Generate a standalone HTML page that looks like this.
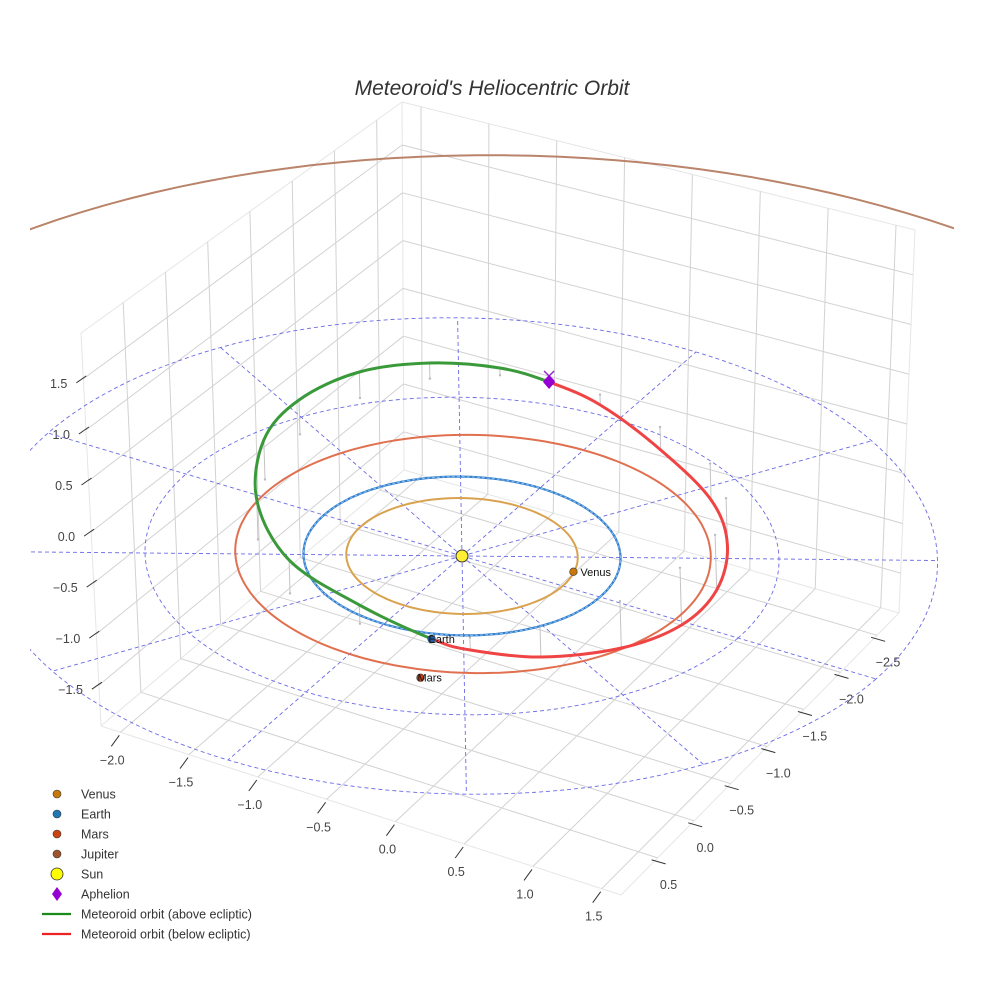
<!DOCTYPE html>
<html><head><meta charset="utf-8"><style>
body{margin:0;background:#fff}
svg{display:block;font-family:"Liberation Sans",sans-serif}
</style></head><body>
<svg id="chart" width="984" height="984" viewBox="0 0 984 984" xmlns="http://www.w3.org/2000/svg">
<defs><clipPath id="plotclip"><rect x="30" y="0" width="924" height="984"/></clipPath>
<clipPath id="jupclip"><rect x="30" y="0" width="924" height="300"/></clipPath></defs>
<text x="492" y="95" text-anchor="middle" font-size="21" font-style="italic" fill="#333">Meteoroid's Heliocentric Orbit</text>
<g id="box"></g>
<g id="ticks"></g>
<g id="plot" clip-path="url(#plotclip)"></g>
<g id="legend"></g>
</svg>
<script>
// ---- data ----
const xTicks = [-2.0, -1.5, -1.0, -0.5, 0.0, 0.5, 1.0, 1.5];
const yTicks = [0.5, 0.0, -0.5, -1.0, -1.5, -2.0, -2.5];
const zTicks = [-1.5, -1.0, -0.5, 0.0, 0.5, 1.0, 1.5];
const planetNames = ["Venus", "Earth", "Mars", "Jupiter"];
const planetOrbitRadius = [0.73, 1.0, 1.5, 5.05];
const planetOrbitCenterX = [0.0, 0.0, 0.047, 0.27];
const planetOrbitCenterY = [0.0, 0.0, -0.058, -0.16];
const planetPosX = [0.70, 0.35, 0.53];
const planetPosY = [-0.19, 1.01, 1.47];
const ringRadii = [1, 2, 3];
const spokeAngles = [0, 30, 60, 90, 120, 150, 180, 210, 240, 270, 300, 330];
const orbitX = [0.352, -0.132, -0.698, -1.205, -1.539, -1.630, -1.531, -1.273, -0.915, -0.608, -0.255, 0.271, 0.768, 1.069, 1.237, 1.251, 1.134, 0.854, 0.548];
const orbitY = [1.008, 1.075, 0.970, 0.484, -0.197, -0.807, -1.401, -1.841, -2.106, -2.192, -2.220, -2.059, -1.822, -1.494, -1.056, -0.581, -0.019, 0.511, 0.868];
const orbitZ = [0, 0.18, 0.32, 0.38, 0.38, 0.33, 0.25, 0.15, 0.07, 0, -0.10, -0.22, -0.35, -0.45, -0.53, -0.55, -0.45, -0.30, -0.12];
const aphelionIndex = 9;

// ---- axes / projection ----
const XR = [-2.14, 1.64], YR = [1.0, -2.8], ZR = [-1.9, 1.95];
const cL = [101, 726], cF = [621, 895], cR = [899, 613], cB = [404, 470];
const cTL = [81, 333], cTB = [402, 102], cTR = [915, 230];
function proj(x, y, z) { return [462 + 138 * x - 78 * y - 3 * z, 556 + 41 * x + 68 * y - 104 * z]; }
function bl(p00, p10, p11, p01, s, t) {
  return [(1-s)*(1-t)*p00[0] + s*(1-t)*p10[0] + s*t*p11[0] + (1-s)*t*p01[0],
          (1-s)*(1-t)*p00[1] + s*(1-t)*p10[1] + s*t*p11[1] + (1-s)*t*p01[1]];
}
const sx = v => (v - XR[0]) / (XR[1] - XR[0]);
const sy = v => (v - YR[0]) / (YR[1] - YR[0]);
const sz = v => (v - ZR[0]) / (ZR[1] - ZR[0]);
const NS = "http://www.w3.org/2000/svg";
function mk(tag, attrs, parent) { const e = document.createElementNS(NS, tag); for (const k in attrs) e.setAttribute(k, attrs[k]); parent.appendChild(e); return e; }
function line(p, q, stroke, w, parent, extra) {
  const e = mk("line", Object.assign({x1: p[0].toFixed(1), y1: p[1].toFixed(1), x2: q[0].toFixed(1), y2: q[1].toFixed(1), stroke: stroke, "stroke-width": w}, extra || {}), parent);
  return e;
}
const box = document.getElementById("box");
[[cL, cB], [cB, cR], [cB, cTB], [cL, cTL], [cR, cTR], [cTL, cTB], [cTB, cTR], [cL, cF], [cF, cR]].forEach(([p, q]) => {
  const e = line(p, q, "#e6e6e6", 1, box);
  
  
});
const G = "#d2d2d2";
xTicks.forEach(v => {
  const s = sx(v);
  const e1 = line(bl(cL, cF, cR, cB, s, 0), bl(cL, cF, cR, cB, s, 1), G, 1, box);
  
  
  const e2 = line(bl(cB, cR, cTR, cTB, s, 0), bl(cB, cR, cTR, cTB, s, 1), G, 1, box);
  
  
});
yTicks.forEach(v => {
  const t = sy(v);
  const e1 = line(bl(cL, cF, cR, cB, 0, t), bl(cL, cF, cR, cB, 1, t), G, 1, box);
  
  
  const e2 = line(bl(cL, cB, cTB, cTL, t, 0), bl(cL, cB, cTB, cTL, t, 1), G, 1, box);
  
  
});
zTicks.forEach(v => {
  const u = sz(v);
  const e1 = line(bl(cL, cB, cTB, cTL, 0, u), bl(cL, cB, cTB, cTL, 1, u), G, 1, box);
  
  
  const e2 = line(bl(cB, cR, cTR, cTB, 0, u), bl(cB, cR, cTR, cTB, 1, u), G, 1, box);
  
  
});
const tk = document.getElementById("ticks");
function fmt(v) { return (v < 0 ? "\u2212" : "") + Math.abs(v).toFixed(1); }
xTicks.forEach(v => {
  const s = sx(v); const p = [cL[0] + s * (cF[0] - cL[0]), cL[1] + s * (cF[1] - cL[1])];
  const m = line([p[0] - 1, p[1] + 3], [p[0] - 9, p[1] + 14], "#333", 1, tk);
  
  
  const t = mk("text", {x: p[0] - 8, y: p[1] + 32, "text-anchor": "middle", "font-size": 12.5, fill: "#444"}, tk);
  t.textContent = fmt(v);
  
  
});
yTicks.forEach(v => {
  const s = sy(v); const p = [cF[0] + s * (cR[0] - cF[0]), cF[1] + s * (cR[1] - cF[1])];
  const m = line([p[0] - 6, p[1] + 2], [p[0] + 8, p[1] + 6], "#333", 1, tk);
  
  
  const t = mk("text", {x: p[0] + 11, y: p[1] + 31, "text-anchor": "middle", "font-size": 12.5, fill: "#444"}, tk);
  t.textContent = fmt(v);
  
  
});
zTicks.forEach(v => {
  const s = sz(v); const p = [cL[0] + s * (cTL[0] - cL[0]), cL[1] + s * (cTL[1] - cL[1])];
  const m = line([p[0] - 7, p[1] + 4], [p[0] + 3, p[1] - 3], "#333", 1, tk);
  
  
  const t = mk("text", {x: p[0] - 16, y: p[1] + 9, "text-anchor": "end", "font-size": 12.5, fill: "#444"}, tk);
  t.textContent = fmt(v);
  
  
});

// ---- plot ----
const plot = document.getElementById("plot");
function circlePath(cx, cy, r) {
  let d = "";
  for (let i = 0; i <= 180; i++) { const a = i / 180 * 2 * Math.PI; const p = proj(cx + r * Math.cos(a), cy + r * Math.sin(a), 0); d += (i ? "L" : "M") + p[0].toFixed(1) + "," + p[1].toFixed(1); }
  return d;
}
const DASH = "#6a6ae6";
ringRadii.forEach(r => {
  const e = mk("path", {d: circlePath(0, 0, r), fill: "none", stroke: DASH, "stroke-width": 0.9, "stroke-dasharray": "4,3"}, plot);
  
  
});
spokeAngles.forEach(a => {
  const r = ringRadii[ringRadii.length - 1], rad = a * Math.PI / 180;
  const e = line(proj(0, 0, 0), proj(r * Math.cos(rad), r * Math.sin(rad), 0), DASH, 0.9, plot, {"stroke-dasharray": "4,3"});
  
  
});
for (let i = 0; i < orbitX.length; i++) {
  if (orbitZ[i] === 0) continue;
  const p = proj(orbitX[i], orbitY[i], orbitZ[i]), q = proj(orbitX[i], orbitY[i], 0);
  const e = line(p, q, "#c4c4c4", 1, plot);
  
  
  const d = mk("circle", {cx: q[0], cy: q[1], r: 1.2, fill: "#bbb"}, plot);
  
  
}
const orbitColors = ["#d9a24e", "#2f7ccc", "#e0704f", "#b9846a"];
const orbitWidths = [2, 2.2, 2, 2];
planetNames.forEach((n, i) => {
  const e = mk("path", {d: circlePath(planetOrbitCenterX[i], planetOrbitCenterY[i], planetOrbitRadius[i]), fill: "none", stroke: orbitColors[i], "stroke-width": orbitWidths[i]}, plot);
  if (n === "Jupiter") e.setAttribute("clip-path", "url(#jupclip)");
  
  
});
const ed = mk("path", {d: circlePath(0, 0, 1), fill: "none", stroke: "#8fc0f0", "stroke-width": 1, "stroke-dasharray": "3,2"}, plot);


const P = orbitX.map((x, i) => proj(x, orbitY[i], orbitZ[i]));
const N = P.length;
function seg(i) {
  const p0 = P[(i - 1 + N) % N], p1 = P[i], p2 = P[(i + 1) % N], p3 = P[(i + 2) % N];
  const c1 = [p1[0] + (p2[0] - p0[0]) / 6, p1[1] + (p2[1] - p0[1]) / 6];
  const c2 = [p2[0] - (p3[0] - p1[0]) / 6, p2[1] - (p3[1] - p1[1]) / 6];
  return "C" + c1.map(v => v.toFixed(1)) + " " + c2.map(v => v.toFixed(1)) + " " + p2.map(v => v.toFixed(1));
}
let dg = "M" + P[0].map(v => v.toFixed(1)); for (let i = 0; i < aphelionIndex; i++) dg += seg(i);
let dr = "M" + P[aphelionIndex].map(v => v.toFixed(1)); for (let i = aphelionIndex; i < N; i++) dr += seg(i);
const gp = mk("path", {d: dg, fill: "none", stroke: "#3a9a3a", "stroke-width": 3}, plot);


const rp = mk("path", {d: dr, fill: "none", stroke: "#f04444", "stroke-width": 3}, plot);


const planetColors = ["#c8780a", "#1f5fa8", "#c0400f"];
for (let i = 0; i < planetPosX.length; i++) {
  const p = proj(planetPosX[i], planetPosY[i], 0);
  const c = mk("circle", {cx: p[0], cy: p[1], r: 3.8, fill: planetColors[i], stroke: "#333", "stroke-width": 0.6}, plot);
  
  
  const t = mk("text", {x: p[0] + (i === 0 ? 7 : -3), y: p[1] + 4, "font-size": 11, fill: "#111"}, plot);
  t.textContent = planetNames[i];
  
  
}
const sp = proj(0, 0, 0);
const sun = mk("circle", {cx: sp[0], cy: sp[1], r: 6, fill: "#ffee33", stroke: "#333", "stroke-width": 1}, plot);


const ap = P[aphelionIndex];
const apx = mk("path", {d: `M${ap[0]-5},${ap[1]-11}L${ap[0]+5},${ap[1]-1}M${ap[0]+5},${ap[1]-11}L${ap[0]-5},${ap[1]-1}`, stroke: "#9a22d0", "stroke-width": 1.5}, plot);


const apd = mk("path", {d: `M${ap[0]},${ap[1]-7}L${ap[0]+6},${ap[1]}L${ap[0]},${ap[1]+7}L${ap[0]-6},${ap[1]}Z`, fill: "#9400d3"}, plot);



const lg = document.getElementById("legend");
const legendLabels = ["Venus", "Earth", "Mars", "Jupiter", "Sun", "Aphelion", "Meteoroid orbit (above ecliptic)", "Meteoroid orbit (below ecliptic)"];
const legendColors = ["#c8780a", "#1f77b4", "#cc4411", "#a0522d", "#ffff00", "#9400d3", "#1a8a1a", "#ee2222"];
legendLabels.forEach((lab, i) => {
  const y = 794 + i * 20;
  let m;
  if (i < 4) m = mk("circle", {cx: 57, cy: y, r: 4, fill: legendColors[i], stroke: "#333", "stroke-width": 0.6}, lg);
  else if (i === 4) m = mk("circle", {cx: 57, cy: y, r: 6, fill: legendColors[i], stroke: "#333", "stroke-width": 0.8}, lg);
  else if (i === 5) m = mk("path", {d: `M57,${y-7}L62,${y}L57,${y+7}L52,${y}Z`, fill: legendColors[i]}, lg);
  else m = mk("line", {x1: 42, y1: y, x2: 71, y2: y, stroke: legendColors[i], "stroke-width": 2.2}, lg);
  
  
  const t = mk("text", {x: 81, y: y + 4.5, "font-size": 12.5, fill: "#333"}, lg);
  t.textContent = lab;
  
  
});
</script>
</body></html>
